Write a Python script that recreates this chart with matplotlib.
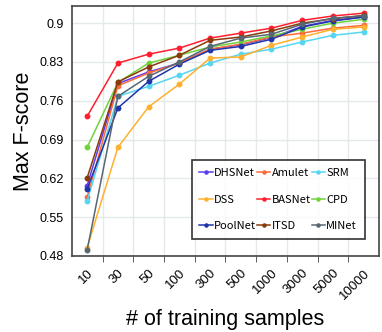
import numpy as np
import matplotlib
matplotlib.use("Agg")
import matplotlib.pyplot as plt
from matplotlib.ticker import FixedLocator

samples = ["10", "30", "50", "100", "300", "500", "1000", "3000", "5000", "10000"]

dhsnet = [0.607, 0.791, 0.812, 0.828, 0.853, 0.861, 0.874, 0.894, 0.905, 0.911]
amulet = [0.586, 0.787, 0.810, 0.828, 0.853, 0.862, 0.875, 0.882, 0.891, 0.896]
srm = [0.579, 0.768, 0.786, 0.806, 0.828, 0.844, 0.853, 0.866, 0.878, 0.884]
dss = [0.495, 0.676, 0.749, 0.790, 0.837, 0.839, 0.860, 0.875, 0.889, 0.893]
basnet = [0.732, 0.828, 0.844, 0.855, 0.873, 0.882, 0.891, 0.905, 0.913, 0.918]
cpd = [0.676, 0.793, 0.828, 0.842, 0.857, 0.866, 0.877, 0.889, 0.900, 0.907]
poolnet = [0.601, 0.747, 0.795, 0.826, 0.851, 0.858, 0.871, 0.893, 0.904, 0.911]
itsd = [0.621, 0.794, 0.821, 0.842, 0.869, 0.875, 0.886, 0.900, 0.908, 0.914]
minet = [0.491, 0.768, 0.804, 0.830, 0.858, 0.873, 0.880, 0.898, 0.909, 0.913]

series = [
    ("DHSNet", dhsnet, "#5b3cf0"),
    ("Amulet", amulet, "#ff6a3a"),
    ("SRM", srm, "#55d6f2"),
    ("DSS", dss, "#ffb02e"),
    ("BASNet", basnet, "#ff1f2e"),
    ("CPD", cpd, "#70d23c"),
    ("PoolNet", poolnet, "#2035a8"),
    ("ITSD", itsd, "#8a3a0c"),
    ("MINet", minet, "#566872"),
]

yticks = [0.48, 0.55, 0.62, 0.69, 0.76, 0.83, 0.9]

plt.rcParams["font.family"] = ["Liberation Sans", "DejaVu Sans"]

fig = plt.figure(figsize=(3.82, 3.32), dpi=100)
ax = fig.add_axes([0.188, 0.229, 0.804, 0.753])

x = np.arange(len(samples))
lines = {}
for name, vals, color in series:
    lines[name], = ax.plot(x, vals, color=color, lw=1.1, marker="o", ms=3.2, label=name)

ax.set_xlim(-0.5, len(samples) - 0.5)
ax.set_ylim(0.48, 0.931)
ax.set_yticks(yticks)
ax.set_yticklabels([f"{t:g}" for t in yticks], fontsize=9)
ax.set_xticks(x)
ax.set_xticklabels(samples, rotation=45, ha="right", rotation_mode="anchor", fontsize=9.5)
ax.xaxis.set_minor_locator(FixedLocator(x[:-1] + 0.5))

ax.tick_params(axis="x", which="major", length=0, pad=8)
ax.tick_params(axis="x", which="minor", length=4, direction="out", color="#444444")
ax.tick_params(axis="y", length=0, pad=6)

ax.grid(axis="y", which="major", color="#e4e9ea", lw=1)
ax.grid(axis="x", which="minor", color="#e4e9ea", lw=1)
ax.set_axisbelow(True)

for s in ax.spines.values():
    s.set_color("#444444")
    s.set_linewidth(1.2)

ax.set_xlabel("# of training samples", fontsize=15.5, labelpad=5)
ax.set_ylabel("Max F-score", fontsize=15.5)

# legend is filled row by row in the reference, matplotlib fills columns
order = ["DHSNet", "DSS", "PoolNet", "Amulet", "BASNet", "ITSD", "SRM", "CPD", "MINet"]
leg = ax.legend([lines[n] for n in order], order, ncol=3, loc="lower right",
                bbox_to_anchor=(0.972, 0.045),
                prop={"family": ["Noto Sans CJK SC", "DejaVu Sans"], "size": 8},
                frameon=True, fancybox=False, edgecolor="black",
                handlelength=1.2, handletextpad=0.1, columnspacing=0.1,
                labelspacing=1.5, borderpad=0.7, markerscale=0.7)
leg.get_frame().set_linewidth(1.2)

fig.savefig("out.png", dpi=100)
